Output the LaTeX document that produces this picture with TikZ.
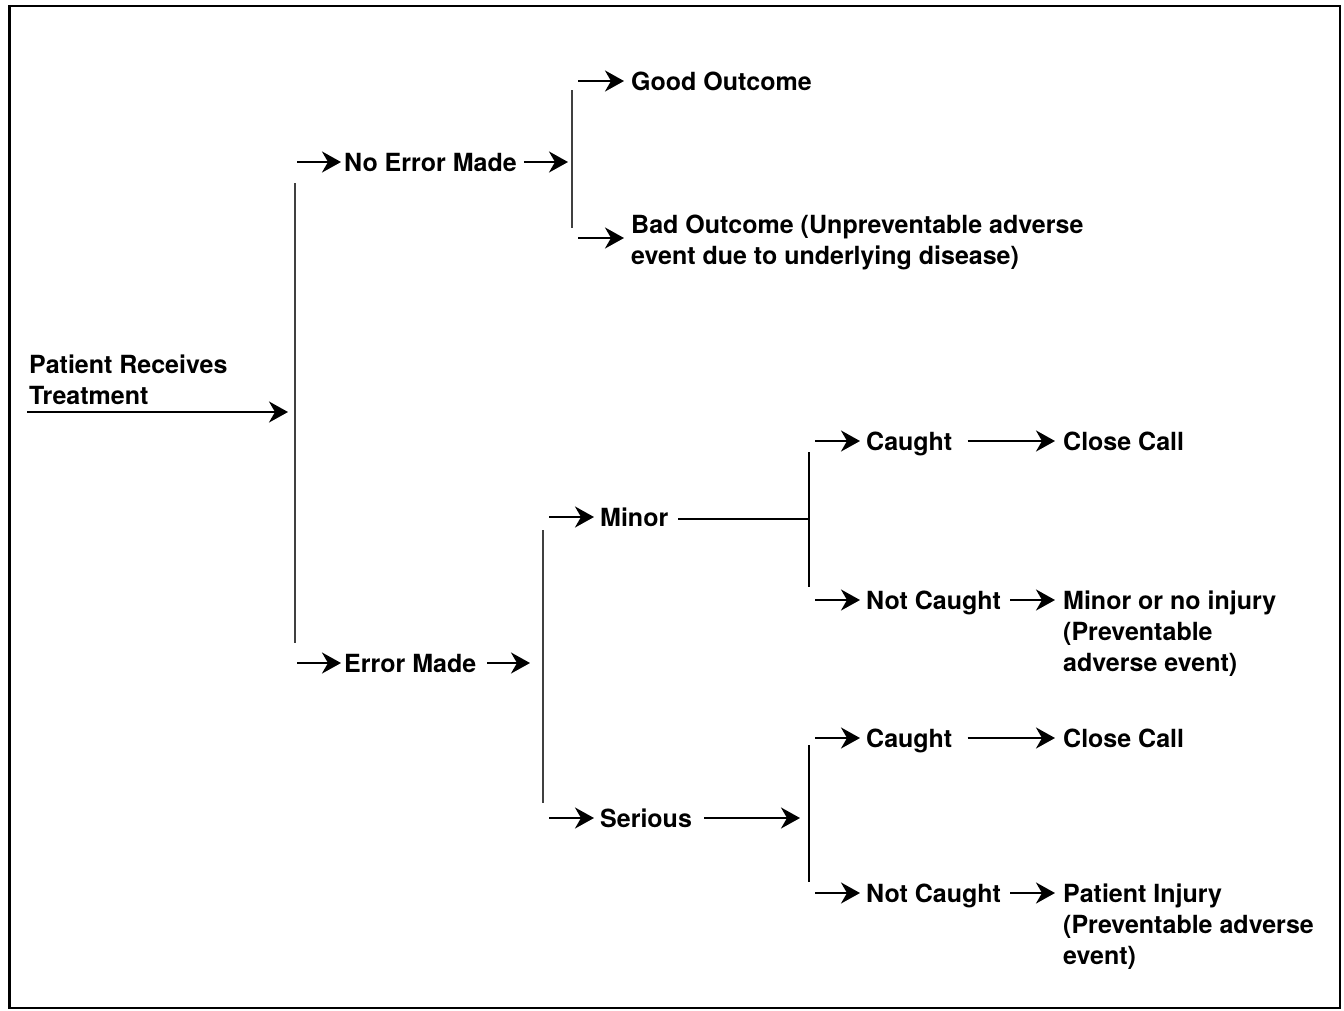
\documentclass[tikz,border=0pt]{standalone}
\usepackage{fontspec}
\setmainfont{TeX Gyre Heros}
\usetikzlibrary{arrows.meta,calc}
\begin{document}
\begin{tikzpicture}[x=1pt,y=-1pt,
  lbl/.style={anchor=base west,inner sep=0pt,align=left,font=\fontsize{25}{31}\selectfont\bfseries},
  arr/.style={line width=2.4pt,-{Stealth[length=19pt,width=21pt,inset=6pt]}},
  plain/.style={line width=2.2pt},
  bar/.style={line width=2.6pt,draw=black!75}]
\useasboundingbox (0,0) rectangle (1344,1010);
\draw[line width=2.5pt] (9.5,6) rectangle (1340,1008);

% text nodes (base = baseline of the last line)
\node[lbl] (patient) at (29,404) {Patient Receives\\Treatment};
\node[lbl] (noerr) at (344,171) {No Error Made};
\node[lbl] (good) at (631,90) {Good Outcome};
\node[lbl] (bad) at (631,264) {Bad Outcome (Unpreventable adverse\\event due to underlying disease)};
\node[lbl] (err) at (344,672) {Error Made};
\node[lbl] (minor) at (600,526) {Minor};
\node[lbl] (serious) at (600,827) {Serious};
\node[lbl] (caught1) at (866,450) {Caught};
\node[lbl] (close1) at (1063,450) {Close Call};
\node[lbl] (notc1) at (866,609) {Not Caught};
\node[lbl] (minj) at (1063,671) {Minor or no injury\\(Preventable\\adverse event)};
\node[lbl] (caught2) at (866,747) {Caught};
\node[lbl] (close2) at (1063,747) {Close Call};
\node[lbl] (notc2) at (866,902) {Not Caught};
\node[lbl] (pinj) at (1063,964) {Patient Injury\\(Preventable adverse\\event)};

% bars
\coordinate (b1t) at (295,183); \coordinate (b1b) at (295,643);
\coordinate (b2t) at (572,90);  \coordinate (b2b) at (572,228);
\coordinate (b3t) at (543,530); \coordinate (b3b) at (543,803);
\coordinate (b4t) at (809,452); \coordinate (b4b) at (809,587);
\coordinate (b5t) at (809,745); \coordinate (b5b) at (809,882);
\draw[bar] (b1t) -- (b1b);
\draw[bar] (b2t) -- (b2b);
\draw[bar] (b3t) -- (b3b);
\draw[plain] (b4t) -- (b4b);
\draw[plain] (b5t) -- (b5b);

% start arrow
\coordinate (s0) at (27,412);
\draw[arr] (s0) -- ($(s0 -| b1t)+(-7,0)$);

% no error branch
\coordinate (a1) at (297,162);
\draw[arr] (a1) -- ($(a1 -| noerr.west)+(-3,0)$);
\draw[arr] ($(a1 -| noerr.east)+(7,0)$) -- ($(a1 -| b2t)+(-4,0)$);
\coordinate (a2) at (578,81);
\draw[arr] (a2) -- ($(a2 -| good.west)+(-7,0)$);
\coordinate (a3) at (578,238);
\draw[arr] (a3) -- ($(a3 -| bad.west)+(-7,0)$);

% error branch
\coordinate (a4) at (297,663);
\draw[arr] (a4) -- ($(a4 -| err.west)+(-3,0)$);
\draw[arr] ($(a4 -| err.east)+(11,0)$) -- ($(a4 -| b3t)+(-13,0)$);
\coordinate (a5) at (549,517);
\draw[arr] (a5) -- ($(a5 -| minor.west)+(-6,0)$);
\coordinate (a6) at (678,519);
\draw[plain] (a6) -- (a6 -| b4t);
\coordinate (a7) at (549,818);
\draw[arr] (a7) -- ($(a7 -| serious.west)+(-6,0)$);
\draw[arr] ($(a7 -| serious.east)+(12,0)$) -- ($(a7 -| b5t)+(-9,0)$);

% minor sub-branch
\coordinate (c1) at (815,441);
\draw[arr] (c1) -- ($(c1 -| caught1.west)+(-6,0)$);
\draw[arr] ($(c1 -| caught1.east)+(15,0)$) -- ($(c1 -| close1.west)+(-8,0)$);
\coordinate (c2) at (815,600);
\draw[arr] (c2) -- ($(c2 -| notc1.west)+(-6,0)$);
\draw[arr] ($(c2 -| notc1.east)+(9,0)$) -- ($(c2 -| minj.west)+(-8,0)$);

% serious sub-branch
\coordinate (c3) at (815,738);
\draw[arr] (c3) -- ($(c3 -| caught2.west)+(-6,0)$);
\draw[arr] ($(c3 -| caught2.east)+(15,0)$) -- ($(c3 -| close2.west)+(-8,0)$);
\coordinate (c4) at (815,893);
\draw[arr] (c4) -- ($(c4 -| notc2.west)+(-6,0)$);
\draw[arr] ($(c4 -| notc2.east)+(9,0)$) -- ($(c4 -| pinj.west)+(-8,0)$);
\end{tikzpicture}
\end{document}
